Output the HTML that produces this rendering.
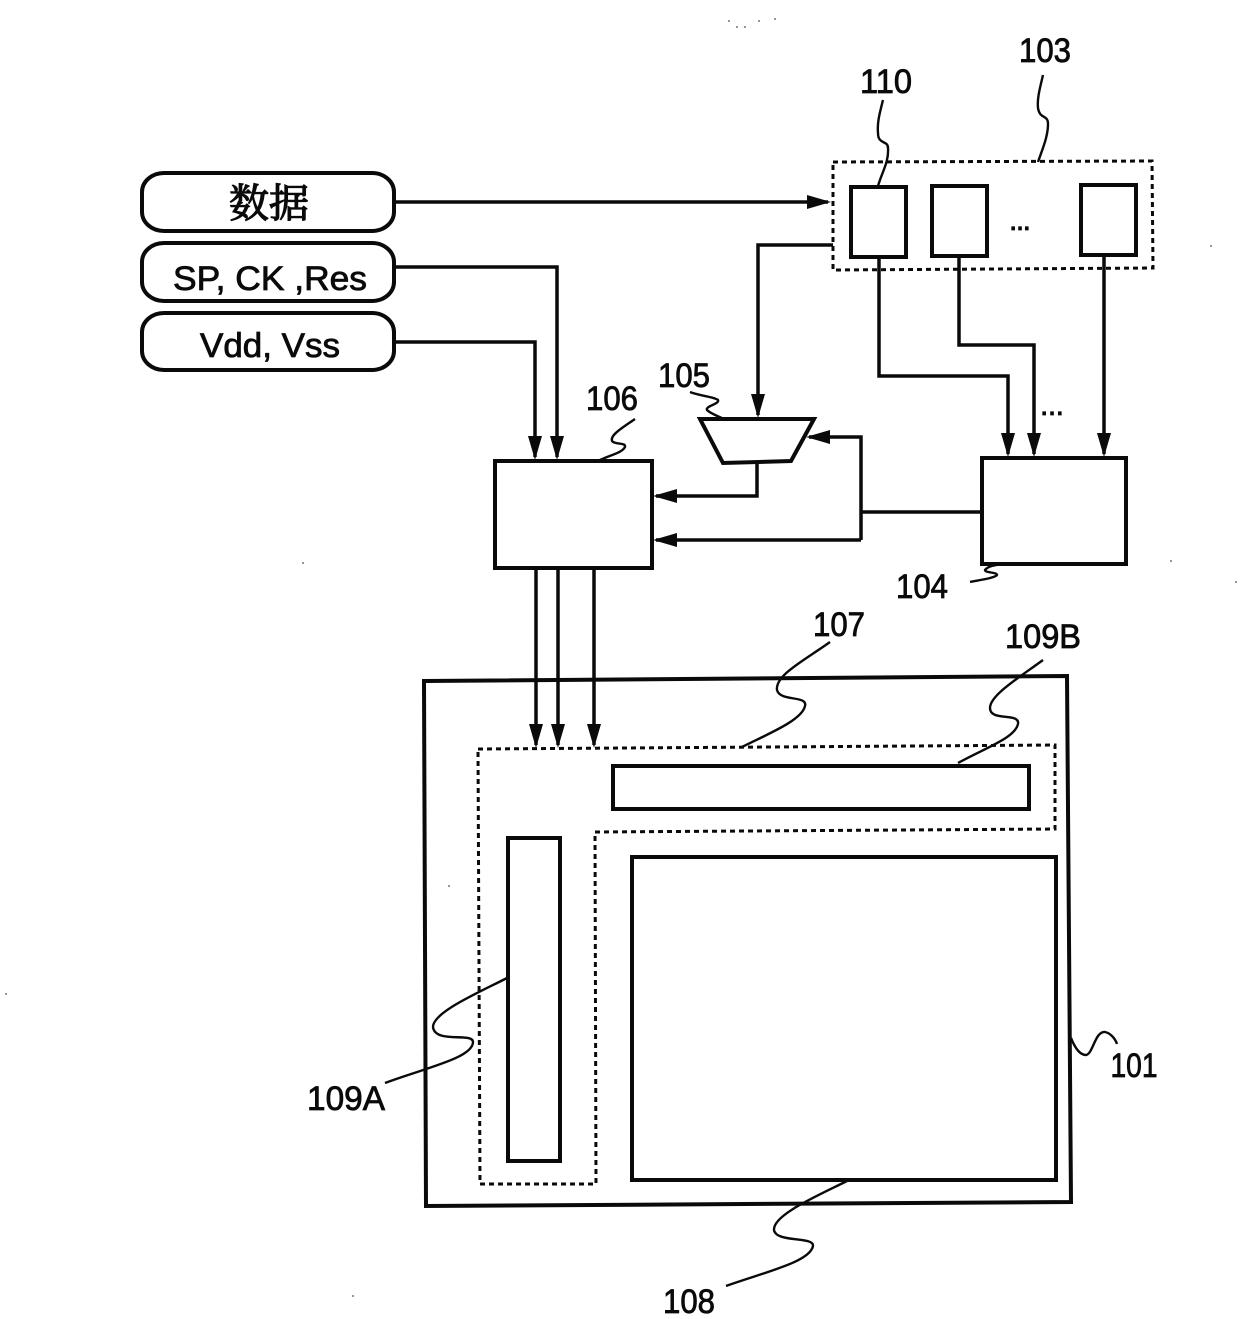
<!DOCTYPE html>
<html><head><meta charset="utf-8"><style>
html,body{margin:0;padding:0;background:#fff}
svg{display:block}
text{font-family:"Liberation Sans","Noto Sans CJK SC",sans-serif;fill:#0a0a0a;stroke:#0a0a0a;stroke-width:.8}
</style></head><body>
<svg width="1240" height="1319" viewBox="0 0 1240 1319" xmlns="http://www.w3.org/2000/svg">
<defs><marker id="a" markerWidth="24" markerHeight="14" refX="21" refY="7" orient="auto" markerUnits="userSpaceOnUse"><path d="M0,0L24,7L0,14Z" fill="#0a0a0a"/></marker></defs>
<g fill="none" stroke="#0a0a0a" stroke-width="4">
<rect x="142" y="173" width="252" height="58" rx="22" ry="19"/>
<rect x="142" y="243" width="252" height="58" rx="22" ry="19"/>
<rect x="142" y="313" width="252" height="57" rx="22" ry="19"/>
<rect x="851" y="187" width="55" height="70"/>
<rect x="932" y="186" width="55" height="70"/>
<rect x="1081" y="185" width="55" height="70"/>
<rect x="495" y="461" width="157" height="107"/>
<rect x="982" y="458" width="144" height="106"/>
<path d="M700,419L814,419L791,461L723,463Z"/>
<path d="M424,681L1067,676L1071,1202L426,1206Z"/>
<rect x="613" y="766" width="416" height="43"/>
<rect x="508" y="838" width="52" height="323"/>
<rect x="632" y="857" width="424" height="323"/>
</g>
<g fill="none" stroke="#0a0a0a" stroke-width="3" stroke-dasharray="5 4">
<path d="M833,162L1152,161L1153,268L833,270Z"/>
<path d="M478,749L1055,745L1055,829L595,832L596,1184L480,1184Z"/>
</g>
<g fill="none" stroke="#0a0a0a" stroke-width="3.5">
<path d="M394,202H828" marker-end="url(#a)"/>
<path d="M394,267H557V457" marker-end="url(#a)"/>
<path d="M394,342H535V457" marker-end="url(#a)"/>
<path d="M833,245H758V415" marker-end="url(#a)"/>
<path d="M879,257V376H1008V454" marker-end="url(#a)"/>
<path d="M959,256V345H1034V454" marker-end="url(#a)"/>
<path d="M1104,255V454" marker-end="url(#a)"/>
<path d="M757,463V496H656" marker-end="url(#a)"/>
<path d="M982,512H861"/>
<path d="M861,540V437H809" marker-end="url(#a)"/>
<path d="M861,540H656" marker-end="url(#a)"/>
<path d="M536,568V745" marker-end="url(#a)"/>
<path d="M558,568V745" marker-end="url(#a)"/>
<path d="M594,568V745" marker-end="url(#a)"/>
</g>
<g fill="none" stroke="#0a0a0a" stroke-width="2.4">
<path d="M883,100C880,112 877,122 878,133C878,145 888,140 888,148C889,162 882,172 878,186"/>
<path d="M1043,75C1040,88 1037,98 1038,108C1040,120 1048,114 1048,124C1048,137 1042,150 1038,162"/>
<path d="M635,419C622,428 610,435 612,441C615,445 626,442 625,447C622,453 610,455 600,460"/>
<path d="M690,392C700,396 715,397 718,400C720,404 705,406 707,410C711,414 718,416 724,419"/>
<path d="M970,582C980,580 995,578 997,575C997,572 985,573 985,570C988,566 995,565 1003,564"/>
<path d="M830,642C805,660 775,675 777,690C780,702 808,695 805,706C802,720 770,733 742,747"/>
<path d="M1043,660C1020,677 990,695 990,708C990,722 1020,712 1018,724C1015,738 985,748 958,763"/>
<path d="M507,978C480,992 433,1012 433,1027C435,1044 473,1032 473,1042C473,1058 425,1068 385,1083"/>
<path d="M847,1181C815,1197 773,1215 774,1230C776,1243 814,1236 813,1246C810,1262 765,1272 726,1286"/>
<path d="M1071,1038C1075,1048 1080,1055 1086,1055C1093,1054 1095,1031 1105,1032C1110,1033 1115,1038 1117,1044"/>
</g>
<g font-size="34" text-anchor="middle">
<text x="269" y="217" style="font-family:'Noto Serif CJK SC',serif;font-size:40px;stroke-width:1.2">数据</text>
<text x="270" y="290" textLength="194" lengthAdjust="spacingAndGlyphs">SP, CK ,Res</text>
<text x="270" y="357" textLength="140" lengthAdjust="spacingAndGlyphs">Vdd, Vss</text>
<text x="886" y="93" textLength="52" lengthAdjust="spacingAndGlyphs">110</text>
<text x="1045" y="62" textLength="52" lengthAdjust="spacingAndGlyphs">103</text>
<text x="684" y="387" textLength="52" lengthAdjust="spacingAndGlyphs">105</text>
<text x="612" y="410" textLength="52" lengthAdjust="spacingAndGlyphs">106</text>
<text x="922" y="598" textLength="52" lengthAdjust="spacingAndGlyphs">104</text>
<text x="839" y="636" textLength="52" lengthAdjust="spacingAndGlyphs">107</text>
<text x="1043" y="648" textLength="76" lengthAdjust="spacingAndGlyphs">109B</text>
<text x="346" y="1110" textLength="78" lengthAdjust="spacingAndGlyphs">109A</text>
<text x="1134" y="1077" textLength="47" lengthAdjust="spacingAndGlyphs">101</text>
<text x="689" y="1313" textLength="52" lengthAdjust="spacingAndGlyphs">108</text>
<text x="1020" y="230" font-size="30" textLength="22" lengthAdjust="spacing">...</text>
<text x="1052" y="415" font-size="30" textLength="24" lengthAdjust="spacing">...</text>
</g>
<g fill="#777">
<circle cx="729" cy="21" r="1"/><circle cx="737" cy="27" r="1"/><circle cx="745" cy="27" r="1"/><circle cx="759" cy="21" r="1"/><circle cx="775" cy="19" r="1"/>
<circle cx="303" cy="563" r="1"/><circle cx="449" cy="886" r="1"/><circle cx="6" cy="994" r="1"/><circle cx="353" cy="1296" r="1"/><circle cx="1171" cy="561" r="1"/><circle cx="1211" cy="246" r="1"/><circle cx="1236" cy="582" r="1"/>
</g>
</svg>
</body></html>
